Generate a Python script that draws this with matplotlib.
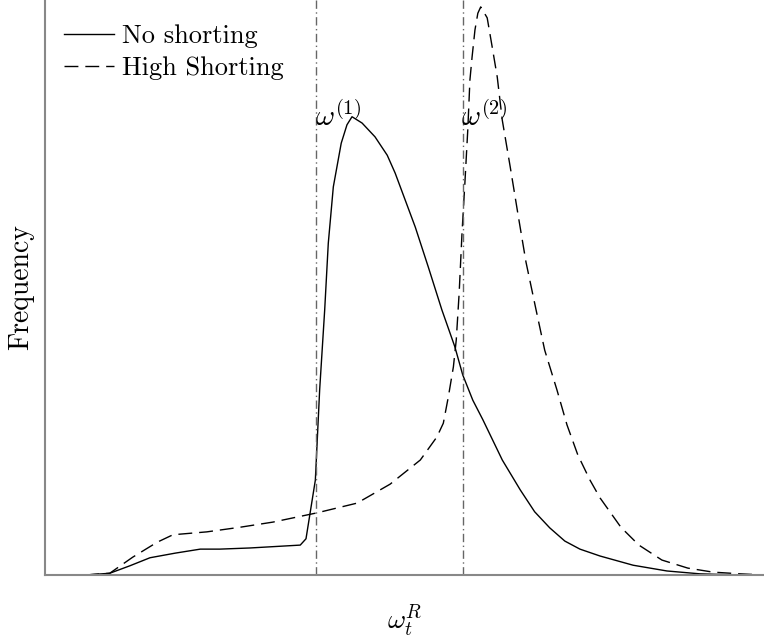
import matplotlib
matplotlib.use("Agg")
import matplotlib.pyplot as plt

plt.rcParams["font.family"] = "cmr10"
plt.rcParams["mathtext.fontset"] = "cm"
plt.rcParams["axes.unicode_minus"] = False

# frequency of omega_t^R (normalised units)
no_short_x = [0.056, 0.090, 0.118, 0.146, 0.181, 0.216, 0.243, 0.285, 0.327, 0.355,
              0.363, 0.376, 0.382, 0.389, 0.394, 0.401, 0.412, 0.420, 0.427, 0.441,
              0.459, 0.476, 0.487, 0.515, 0.533, 0.552, 0.570, 0.581, 0.595, 0.609,
              0.636, 0.661, 0.681, 0.702, 0.723, 0.744, 0.772, 0.818, 0.865, 0.911,
              0.967]
no_short_y = [0.000, 0.003, 0.016, 0.030, 0.038, 0.045, 0.045, 0.047, 0.050, 0.052,
              0.063, 0.165, 0.322, 0.461, 0.577, 0.675, 0.751, 0.783, 0.797, 0.786,
              0.762, 0.730, 0.699, 0.605, 0.536, 0.461, 0.397, 0.348, 0.304, 0.270,
              0.200, 0.148, 0.110, 0.082, 0.059, 0.045, 0.033, 0.017, 0.007, 0.002,
              0.000]

high_short_x = [0.056, 0.090, 0.122, 0.156, 0.178, 0.225, 0.271, 0.317, 0.378, 0.434,
                0.480, 0.522, 0.545, 0.554, 0.561, 0.568, 0.572, 0.576, 0.580, 0.584,
                0.588, 0.591, 0.594, 0.598, 0.602, 0.606, 0.615, 0.622, 0.629, 0.636,
                0.647, 0.658, 0.669, 0.683, 0.695, 0.712, 0.726, 0.741, 0.758, 0.772,
                0.801, 0.826, 0.858, 0.894, 0.929, 0.967, 1.000]
high_short_y = [0.000, 0.003, 0.031, 0.057, 0.070, 0.075, 0.083, 0.092, 0.108, 0.125,
                0.158, 0.200, 0.240, 0.264, 0.310, 0.362, 0.409, 0.490, 0.595, 0.682,
                0.774, 0.861, 0.901, 0.948, 0.977, 0.988, 0.969, 0.918, 0.866, 0.791,
                0.710, 0.626, 0.544, 0.461, 0.391, 0.322, 0.261, 0.209, 0.165, 0.134,
                0.083, 0.052, 0.026, 0.012, 0.005, 0.002, 0.000]

thresholds = [0.377, 0.581]
threshold_labels = [r"$\omega^{(1)}$", r"$\omega^{(2)}$"]

fig = plt.figure(figsize=(7.64, 6.39), dpi=100)
ax = fig.add_axes([45 / 764, 64 / 639, 719 / 764, 575 / 639])

ax.plot(no_short_x, no_short_y, color="black", lw=1.0, label="No shorting")
ax.plot(high_short_x, high_short_y, color="black", lw=1.0, dashes=(10, 5),
        label="High Shorting")

for xv, lab in zip(thresholds, threshold_labels):
    ax.axvline(xv, color="#666666", lw=1.0, linestyle=(0, (6, 2.5, 1, 2.5)))
    ax.text(xv - 0.002, 0.781, lab, fontsize=21, ha="left", va="baseline")

ax.set_xlim(0, 1)
ax.set_ylim(0, 1)
ax.set_xticks([])
ax.set_yticks([])
for side in ["top", "right"]:
    ax.spines[side].set_visible(False)
for side in ["left", "bottom"]:
    ax.spines[side].set_color("#888888")
    ax.spines[side].set_linewidth(1.5)

ax.set_xlabel(r"$\omega_t^R$", fontsize=20, labelpad=20)
ax.set_ylabel("Frequency", fontsize=20, labelpad=8)

ax.legend(loc="upper left", frameon=False, fontsize=19, handlelength=1.9,
          handletextpad=0.3, labelspacing=0.3, borderaxespad=0.0,
          bbox_to_anchor=(0.012, 0.976))

fig.savefig("out.png", dpi=100)
